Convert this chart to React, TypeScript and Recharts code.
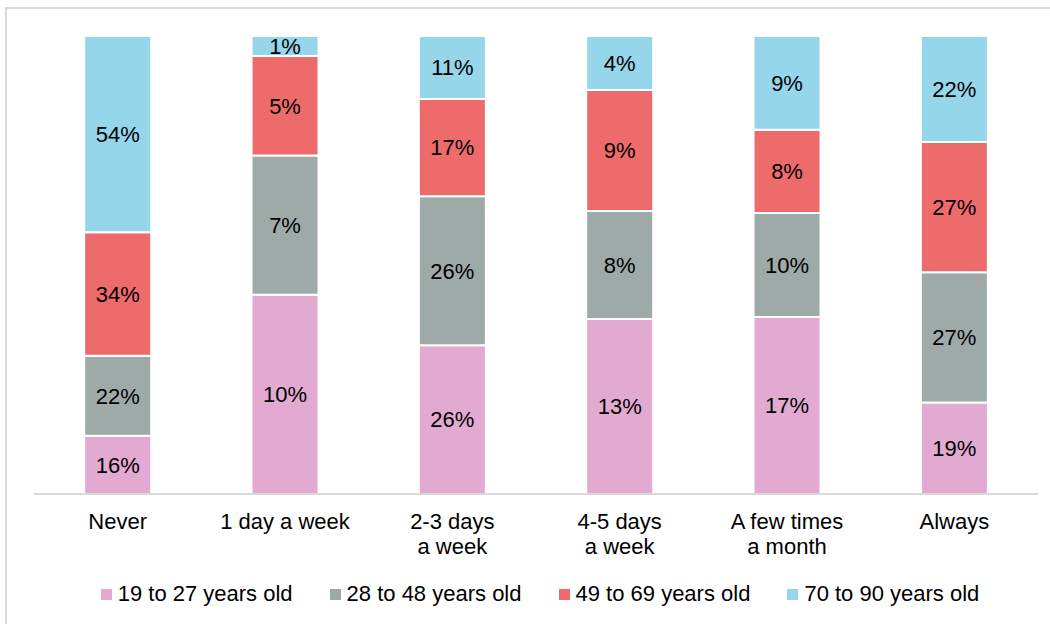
import { BarChart, Bar, XAxis, YAxis, LabelList } from 'recharts';

const CATEGORIES = ['Never', '1 day a week', '2-3 days\na week', '4-5 days\na week', 'A few times\na month', 'Always'];

const AGE_19_27 = [16, 10, 26, 13, 17, 19];
const AGE_28_48 = [22, 7, 26, 8, 10, 27];
const AGE_49_69 = [34, 5, 17, 9, 8, 27];
const AGE_70_90 = [54, 1, 11, 4, 9, 22];

const SERIES = [
  { key: 'a', name: '19 to 27 years old', color: '#E2A9D1', values: AGE_19_27 },
  { key: 'b', name: '28 to 48 years old', color: '#9DAAA8', values: AGE_28_48 },
  { key: 'c', name: '49 to 69 years old', color: '#EE6B6B', values: AGE_49_69 },
  { key: 'd', name: '70 to 90 years old', color: '#95D6EB', values: AGE_70_90 },
];

const data = CATEGORIES.map((cat, i) => {
  const row: Record<string, string | number> = { cat };
  SERIES.forEach(s => { row[s.key] = s.values[i]; });
  return row;
});

const FONT = '"Liberation Sans", Arial, sans-serif';

// two-line category labels, split on \n
function CategoryTick({ x, y, payload }: any) {
  const lines = String(payload.value).split('\n');
  return (
    <g>
      {lines.map((line, i) => (
        <text key={i} x={x} y={y + 27 + i * 25} textAnchor="middle" fontSize={22} fill="#000" fontFamily={FONT}>
          {line}
        </text>
      ))}
    </g>
  );
}

export default function App() {
  return (
    <div style={{ position: 'absolute', left: 0, top: 0, width: 1050, height: 624, background: '#fff', fontFamily: FONT, overflow: 'hidden' }}>
      <div style={{ position: 'absolute', left: 5, top: 7, width: 1100, height: 700, borderLeft: '2px solid #d9d9d9', borderTop: '2px solid #d9d9d9' }} />
      <BarChart
        width={1050}
        height={624}
        data={data}
        stackOffset="expand"
        barCategoryGap="30%"
        margin={{ top: 36, right: 12, bottom: 50, left: 34 }}
        style={{ position: 'absolute', left: 0, top: 0 }}
      >
        <XAxis
          dataKey="cat"
          height={80}
          interval={0}
          tickLine={false}
          axisLine={{ stroke: '#d9d9d9', strokeWidth: 2 }}
          tick={<CategoryTick />}
        />
        <YAxis hide domain={[0, 1]} />
        {SERIES.map(s => (
          <Bar key={s.key} dataKey={s.key} name={s.name} stackId="age" fill={s.color} stroke="#fff" strokeWidth={2} isAnimationActive={false}>
            <LabelList
              dataKey={s.key}
              position="center"
              formatter={(v: any) => `${v}%`}
              style={{ fill: '#000', fontSize: 22, fontFamily: FONT }}
            />
          </Bar>
        ))}
      </BarChart>
      <div style={{ position: 'absolute', top: 580, left: 0, width: 1050, display: 'flex', justifyContent: 'center', gap: 37, paddingLeft: 30, boxSizing: 'border-box' }}>
        {SERIES.map(s => (
          <div key={s.key} style={{ display: 'flex', alignItems: 'center', fontSize: 22, color: '#000', lineHeight: '28px' }}>
            <span style={{ display: 'inline-block', width: 11, height: 11, background: s.color, marginRight: 6 }} />
            {s.name}
          </div>
        ))}
      </div>
    </div>
  );
}
